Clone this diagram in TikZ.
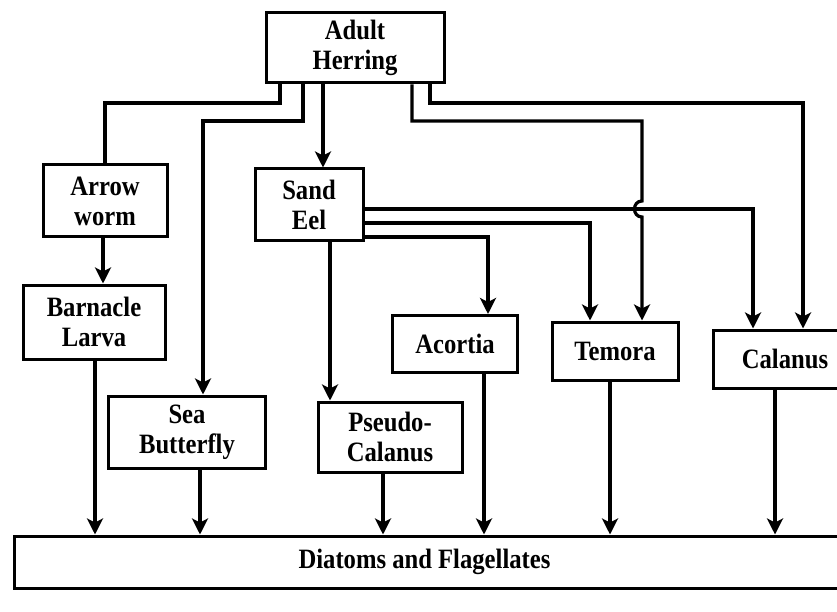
\documentclass[tikz,border=0pt]{standalone}
\usepackage{fontspec}
\setmainfont{Liberation Serif}[FakeStretch=0.88]
\usetikzlibrary{arrows.meta}

\tikzset{
  BoxStyle/.style = {draw, line width=3pt, align=center, inner sep=0pt,
    font=\fontsize{28}{30}\selectfont\bfseries},
  EdgeStyle/.style = {line width=3.2pt, -{Stealth[length=16pt,width=16pt,inset=4pt]}},
  LineStyle/.style = {line width=3.2pt}
}

\begin{document}
\begin{tikzpicture}[x=1pt,y=-1pt]
      \clip (0,0) rectangle (837,612);
      \fill[white] (0,0) rectangle (837,612);

      % Boxes
      \node[BoxStyle, minimum width=178pt, minimum height=70pt] (herring) at (355,48) {Adult\\Herring};
      \node[BoxStyle, minimum width=124pt, minimum height=72pt] (arrowworm) at (105,201) {Arrow\\worm};
      \node[BoxStyle, minimum width=108pt, minimum height=72pt] (sandeel) at (309,205) {Sand\\Eel};
      \node[BoxStyle, minimum width=142pt, minimum height=74pt] (barnacle) at (94,322) {Barnacle\\Larva};
      \node[BoxStyle, minimum width=157pt, minimum height=72pt] (seabutterfly) at (187,432) {Sea\\Butterfly};
      \node[BoxStyle, minimum width=144pt, minimum height=70pt] (pseudo) at (390,437) {Pseudo-\\Calanus};
      \node[BoxStyle, minimum width=125pt, minimum height=57pt] (acortia) at (455,344) {Acortia};
      \node[BoxStyle, minimum width=126pt, minimum height=58pt] (temora) at (615,351) {Temora};
      \node[BoxStyle, minimum width=144pt, minimum height=58pt] (calanus) at (785,359) {Calanus};
      \node[BoxStyle, minimum width=848pt, minimum height=52pt, anchor=west] (diatoms) at (13,562) {\hspace*{-28pt}Diatoms and Flagellates};

      % Adult Herring eats
      \draw[LineStyle] (280,0 |- herring.south) -- (280,103) -| (arrowworm.north);
      \draw[EdgeStyle] (303,0 |- herring.south) -- (303,121) -| (203,0 |- seabutterfly.north);
      \draw[EdgeStyle] (323,0 |- herring.south) -- (323,0 |- sandeel.north);
      \draw[EdgeStyle] (412,0 |- herring.south) -- (412,121) -- (642,121) -- (642,201)
            .. controls (632,201) and (632,217) .. (642,217) -- (642,0 |- temora.north);
      \draw[EdgeStyle] (430,0 |- herring.south) -- (430,103) -| (803,0 |- calanus.north);

      % Sand Eel and Arrow worm eat
      \draw[EdgeStyle] (sandeel.east |- 0,209) -| (753,0 |- calanus.north);
      \draw[EdgeStyle] (sandeel.east |- 0,223) -| (590,0 |- temora.north);
      \draw[EdgeStyle] (sandeel.east |- 0,237) -| (488,0 |- acortia.north);
      \draw[EdgeStyle] (330,0 |- sandeel.south) -- (330,0 |- pseudo.north);
      \draw[EdgeStyle] (103,0 |- arrowworm.south) -- (103,0 |- barnacle.north);

      % Down to the plankton
      \draw[EdgeStyle] (95,0 |- barnacle.south) -- (95,0 |- diatoms.north);
      \draw[EdgeStyle] (200,0 |- seabutterfly.south) -- (200,0 |- diatoms.north);
      \draw[EdgeStyle] (383,0 |- pseudo.south) -- (383,0 |- diatoms.north);
      \draw[EdgeStyle] (484,0 |- acortia.south) -- (484,0 |- diatoms.north);
      \draw[EdgeStyle] (610,0 |- temora.south) -- (610,0 |- diatoms.north);
      \draw[EdgeStyle] (775,0 |- calanus.south) -- (775,0 |- diatoms.north);
\end{tikzpicture}
\end{document}
